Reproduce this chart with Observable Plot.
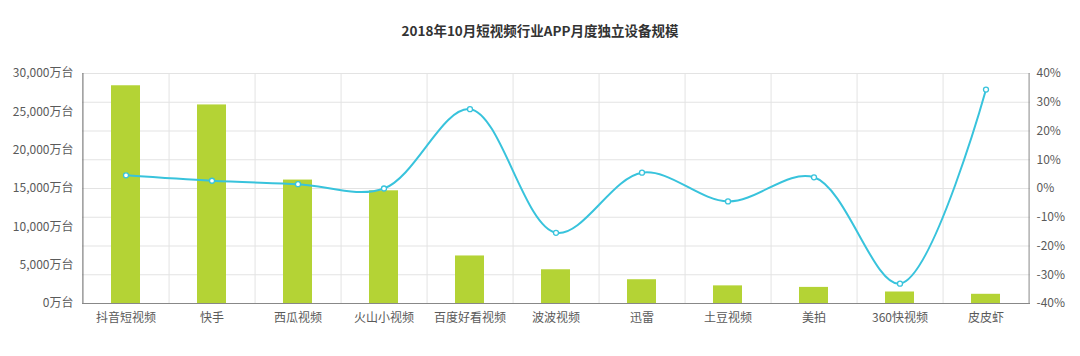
<!DOCTYPE html>
<html><head><meta charset="utf-8">
<script src="https://cdn.jsdelivr.net/npm/d3@7"></script>
<script src="https://cdn.jsdelivr.net/npm/@observablehq/plot@0.6"></script>
<style>
body{margin:0;background:#fff;font-family:"Noto Sans CJK SC",sans-serif;}
#title{height:50px;box-sizing:border-box;padding-top:20px;text-align:center;font-size:13.5px;line-height:20px;font-weight:bold;color:#333;}
</style></head><body>
<div id="title">2018年10月短视频行业APP月度独立设备规模</div>
<div id="chart"></div>
<script>
const apps = ["抖音短视频","快手","西瓜视频","火山小视频","百度好看视频","波波视频","迅雷","土豆视频","美拍","360快视频","皮皮虾"];
const devices = [28400, 25900, 16100, 14700, 6200, 4400, 3100, 2300, 2100, 1500, 1200];
const growth = [4.6, 2.7, 1.5, 0, 27.6, -15.4, 5.5, -4.5, 3.9, -33.1, 34.4];
const leftTicks = [0, 5000, 10000, 15000, 20000, 25000, 30000];
const rightTicks = [-40, -30, -20, -10, 0, 10, 20, 30, 40];

const W = 1080, ML = 82, MR = 50;
const step = (W - ML - MR) / apps.length;
const yMax = 30000;
const pctToY = p => (p + 40) / 80 * yMax;
const yToPct = v => Math.round(v / yMax * 80 - 40);

const rows = apps.map((a, i) => ({app: a, dev: devices[i], g: growth[i], gy: pctToY(growth[i])}));
const lineColor = "#38c3dc";
const barColor = "#b4d335";

const chart = Plot.plot({
  width: W, height: 306,
  marginLeft: ML, marginRight: MR, marginTop: 23, marginBottom: 53,
  style: {fontFamily: "Noto Sans CJK SC", fontSize: "12px", color: "#5a5a5a", background: "#fff"},
  x: {type: "band", domain: apps, paddingInner: 0.66, paddingOuter: 0.33},
  y: {domain: [0, yMax]},
  marks: [
    Plot.gridY(rightTicks.map(pctToY), {stroke: "#e3e3e3", strokeOpacity: 1}),
    Plot.ruleX(apps.slice(0, apps.length - 1), {x: d => d, dx: step / 2, stroke: "#e3e3e3"}),
    Plot.barY(rows, {x: "app", y: "dev", fill: barColor}),
    Plot.line(rows, {x: "app", y: "gy", stroke: lineColor, strokeWidth: 2, curve: "catmull-rom"}),
    Plot.dot(rows, {x: "app", y: "gy", r: 2.5, fill: "#fff", stroke: lineColor, strokeWidth: 1.3}),
    Plot.ruleX([apps[0]], {x: d => d, dx: -step / 2, stroke: "#666"}),
    Plot.ruleX([apps[apps.length - 1]], {x: d => d, dx: step / 2, stroke: "#888"}),
    Plot.ruleY([0], {stroke: "#888"}),
    Plot.axisY(leftTicks, {anchor: "left", tickSize: 0, tickPadding: 9, tickFormat: d => d3.format(",")(d) + "万台", label: null}),
    Plot.axisY(rightTicks.map(pctToY), {anchor: "right", tickSize: 0, tickPadding: 6, tickFormat: v => yToPct(v) + "%", label: null}),
    Plot.axisX({tickSize: 0, tickPadding: 10, label: null})
  ]
});
document.getElementById("chart").appendChild(chart);
</script>
</body></html>
